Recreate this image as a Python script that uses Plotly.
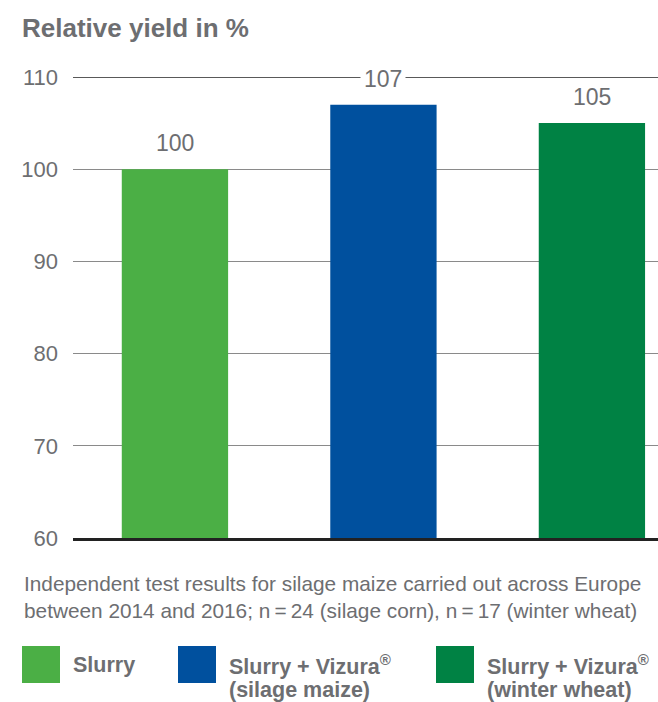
import plotly.graph_objects as go

# ---- data ----
categories = ["Slurry", "Slurry + Vizura® (silage maize)", "Slurry + Vizura® (winter wheat)"]
values = [100, 107, 105]
legend_line1 = ["Slurry", "Slurry + Vizura<sup>®</sup>", "Slurry + Vizura<sup>®</sup>"]
legend_line2 = ["", "(silage maize)", "(winter wheat)"]
colors = ["#4BAF45", "#00509E", "#008244"]
y_ticks = [60, 70, 80, 90, 100, 110]
y_range = [60, 110]
title_text = "Relative yield in %"
caption_lines = [
    "Independent test results for silage maize carried out across Europe",
    "between 2014 and 2016; n\u2009=\u200924 (silage corn), n\u2009=\u200917 (winter wheat)",
]

W, H = 658, 702
L, T, B = 73, 77, 538
PW, PH = W - L, B - T
GRAY = "#6d6e71"
FONT = "Liberation Sans, Arial, Helvetica, sans-serif"


def px(x):
    return (x - L) / PW


def py(y):
    return (B - y) / PH


fig = go.Figure()
fig.add_trace(go.Bar(
    x=categories, y=[v - y_range[0] for v in values], base=y_range[0],
    marker=dict(color=colors, line=dict(width=0)),
    width=0.51, showlegend=False, hoverinfo="skip",
))

annotations = []
for c, v in zip(categories, values):
    annotations.append(dict(
        x=c, y=v, xref="x", yref="y", text=str(v), showarrow=False,
        yanchor="middle", yshift=26, font=dict(size=23, color=GRAY, family=FONT),
        bgcolor="white", borderpad=3,
    ))

for i, line in enumerate(caption_lines):
    annotations.append(dict(
        x=px(22), y=py(583 + 27 * i), xref="paper", yref="paper", text=line,
        showarrow=False, xanchor="left", yanchor="middle",
        font=dict(size=20.8, color=GRAY, family=FONT),
    ))

shapes = []
leg_x = [22, 178, 436]
for lx, col, l1, l2 in zip(leg_x, colors, legend_line1, legend_line2):
    shapes.append(dict(type="rect", xref="paper", yref="paper",
                       x0=px(lx), x1=px(lx + 38), y0=py(683), y1=py(646),
                       fillcolor=col, line=dict(width=0)))
    for j, lab in enumerate([l1, l2]):
        if not lab:
            continue
        annotations.append(dict(
            x=px(lx + 49), y=py(665 + 25 * j), xref="paper", yref="paper",
            text="<b>" + lab + "</b>",
            showarrow=False, xanchor="left", yanchor="middle", align="left",
            font=dict(size=21.5, color=GRAY, family=FONT),
        ))

# top reference line at the top of the axis range
shapes.append(dict(type="line", xref="paper", yref="y", x0=0, x1=1,
                   y0=y_range[1], y1=y_range[1], line=dict(color="#222222", width=1.5),
                   layer="below"))

fig.update_layout(
    width=W, height=H,
    margin=dict(l=L, r=0, t=T, b=H - B, pad=0),
    paper_bgcolor="white", plot_bgcolor="white",
    font=dict(family=FONT, color=GRAY),
    title=dict(text="<b>" + title_text + "</b>", xref="container", yref="container",
               x=22 / W, xanchor="left", y=1 - 28 / H, yanchor="middle",
               font=dict(size=26, color=GRAY, family=FONT)),
    xaxis=dict(range=[-0.489, 2.317], showticklabels=False, showgrid=False,
               showline=True, linecolor="#222222", linewidth=3, zeroline=False,
               fixedrange=True),
    yaxis=dict(range=y_range, tickvals=y_ticks, showgrid=True,
               gridcolor="#8a8a8a", gridwidth=1.2, zeroline=False, showline=False,
               ticks="", ticklabelstandoff=14,
               tickfont=dict(size=22, color=GRAY, family=FONT)),
    bargap=0.49,
    annotations=annotations, shapes=shapes,
)

fig.write_html("out.html")
